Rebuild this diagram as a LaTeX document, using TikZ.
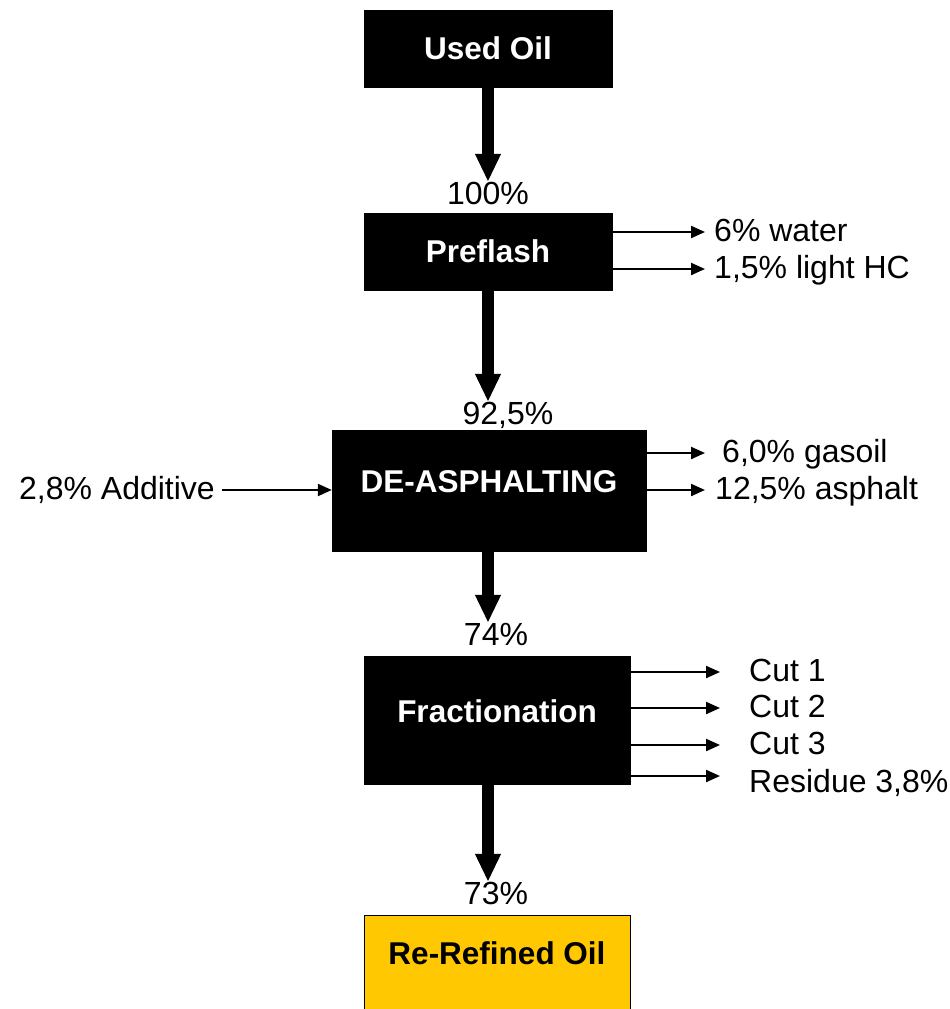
\documentclass[tikz,border=0pt]{standalone}
\usepackage{fontspec}
\setmainfont{Liberation Sans}
\usetikzlibrary{arrows.meta}
\definecolor{oilyellow}{RGB}{255,200,0}
\tikzset{
  procbox/.style={draw=black, fill=black, text=white, font=\fontsize{31.5}{36}\selectfont\bfseries, inner sep=0pt},
  endbox/.style={draw=black, line width=1pt, fill=oilyellow, text=black, inner sep=0pt},
  lbl/.style={font=\fontsize{32}{36}\selectfont, inner sep=0pt, text height=22pt, text depth=0pt},
  bigarrow/.style={line width=12pt, -{Triangle[length=28pt,width=24pt]}},
  smallarrow/.style={line width=2.2pt, -{Triangle[length=14pt,width=12pt]}}
}
\begin{document}
\begin{tikzpicture}[x=1pt,y=-1pt]
\useasboundingbox (0,0) rectangle (950,1009);
% boxes
\node[procbox, minimum width=248pt, minimum height=77pt] (used) at (488,48.5) {Used Oil};
\node[procbox, minimum width=248pt, minimum height=77pt] (pre) at (488,251.5) {Preflash};
\node[procbox, minimum width=314pt, minimum height=121pt] (deas) at (489,490.5) {\raisebox{18pt}{DE-ASPHALTING}};
\node[procbox, minimum width=266pt, minimum height=128pt] (frac) at (497,720) {\raisebox{18pt}{Fractionation}};
\begin{scope}
\clip (0,0) rectangle (950,1009);
\node[endbox, minimum width=266pt, minimum height=98pt] (rro) at (497,964) {};
\end{scope}
\node[font=\fontsize{31.5}{36}\selectfont\bfseries, inner sep=0pt] (rrotext) at (497,953) {Re-Refined Oil};
% percentage labels
\node[lbl] (p100) at (488,193) {100\%};
\node[lbl] (p925) at (508,413) {92,5\%};
\node[lbl] (p74) at (496,634) {74\%};
\node[lbl] (p73) at (496,893) {73\%};
% main arrows
\draw[bigarrow] (used.south) -- (p100.north);
\draw[bigarrow] (pre.south -| p100) -- (p100 |- p925.north);
\draw[bigarrow] (deas.south -| p100) -- (p100 |- p74.north);
\draw[bigarrow] (frac.south -| p100) -- (p100 |- p73.north);
% side labels
\node[lbl, anchor=west] (water) at (714,230) {6\% water};
\node[lbl, anchor=west] (lhc) at (714,267) {1,5\% light HC};
\node[lbl, anchor=west] (gas) at (722,451) {6,0\% gasoil};
\node[lbl, anchor=west] (asph) at (715,488) {12,5\% asphalt};
\node[lbl, anchor=east] (add) at (215,488) {2,8\% Additive};
\node[lbl, anchor=west] (c1) at (749,670) {Cut 1};
\node[lbl, anchor=west] (c2) at (749,706) {Cut 2};
\node[lbl, anchor=west] (c3) at (749,743) {Cut 3};
\node[lbl, anchor=west] (res) at (749,781) {Residue 3,8\%};
% side arrows
\coordinate (wE) at (705,232);
\coordinate (lE) at (705,269);
\coordinate (gE) at (705,453);
\coordinate (aE) at (705,490);
\coordinate (c1E) at (720,672);
\coordinate (c2E) at (720,708);
\coordinate (c3E) at (720,745);
\coordinate (rE) at (720,776);
\draw[smallarrow] (pre.east |- wE) -- (wE);
\draw[smallarrow] (pre.east |- lE) -- (lE);
\draw[smallarrow] (deas.east |- gE) -- (gE);
\draw[smallarrow] (deas.east |- aE) -- (aE);
\draw[smallarrow] (add.east |- aE) ++(7,0) -- (deas.west |- aE);
\draw[smallarrow] (frac.east |- c1E) -- (c1E);
\draw[smallarrow] (frac.east |- c2E) -- (c2E);
\draw[smallarrow] (frac.east |- c3E) -- (c3E);
\draw[smallarrow] (frac.east |- rE) -- (rE);
\end{tikzpicture}
\end{document}
